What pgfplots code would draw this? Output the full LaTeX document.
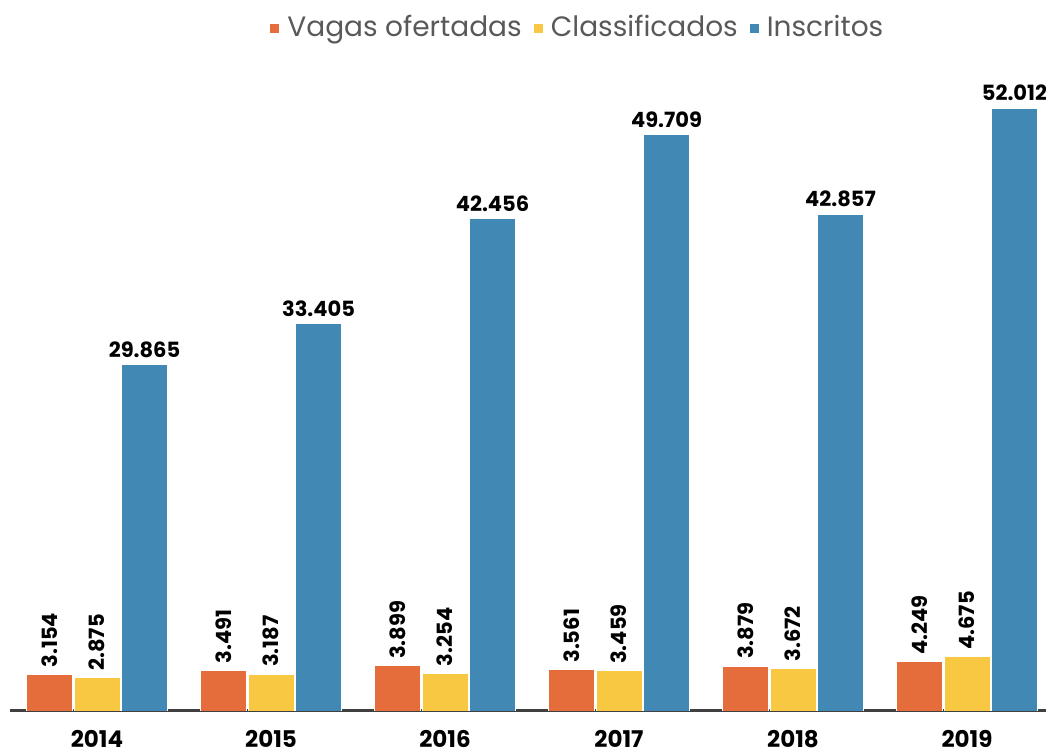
\documentclass[border=0pt]{standalone}
\usepackage{fontspec}
\setmainfont{Poppins}
\usepackage{pgfplots}
\pgfplotsset{compat=1.18}
\definecolor{cO}{HTML}{E56C3B}
\definecolor{cY}{HTML}{F9C843}
\definecolor{cB}{HTML}{4288B5}
\definecolor{txtgray}{HTML}{595959}
\definecolor{axgray}{HTML}{404040}
\begin{document}
\begin{tikzpicture}
\begin{axis}[
  name=ax,
  scale only axis,
  width=520pt, height=325.5pt,
  xmin=-0.5, xmax=5.477,
  ymin=0, ymax=56155,
  ybar=0.75pt, bar width=23pt,
  axis x line*=bottom,
  axis y line=none,
  x axis line style={draw=axgray, line width=1.5pt, -},
  xtick={0,1,2,3,4,5},
  xticklabels={2014,2015,2016,2017,2018,2019},
  major tick length=0pt,
  xticklabel style={font=\fontsize{11.5}{13}\selectfont\bfseries, text=black, yshift=-6pt},
  /pgf/number format/.cd, 1000 sep={.}, assume math mode=true, /pgfplots/.cd,
  nodes near coords,
  every node near coord/.append style={text=black, font=\fontsize{10.5}{12}\selectfont\bfseries},
  legend style={at={(0.547,1.0507)}, anchor=center, draw=none, fill=none,
    font=\fontsize{14}{16}\selectfont, text=txtgray,
    /tikz/every even column/.append style={column sep=4pt},
    /tikz/every odd column/.append style={column sep=2pt}},
  legend columns=-1,
  legend image code/.code={\fill[#1,draw=none] (0pt,-2.8pt) rectangle (4.5pt,1.7pt);},
]
\addplot[fill=cO, draw=white, line width=0.4pt,
  every node near coord/.append style={rotate=90, anchor=west, xshift=0pt}]
  coordinates {(0,3154) (1,3491) (2,3899) (3,3561) (4,3879) (5,4249)};
\addplot[fill=cY, draw=white, line width=0.4pt,
  every node near coord/.append style={rotate=90, anchor=west, xshift=0pt}]
  coordinates {(0,2875) (1,3187) (2,3254) (3,3459) (4,3672) (5,4675)};
\addplot[fill=cB, draw=white, line width=0.4pt]
  coordinates {(0,29865) (1,33405) (2,42456) (3,49709) (4,42857) (5,52012)};
\legend{Vagas ofertadas, Classificados, Inscritos}
\end{axis}
\pgfresetboundingbox
\path (ax.south west) ++(-5pt,-21.5pt) rectangle ++(523pt,377pt);
\end{tikzpicture}
\end{document}
